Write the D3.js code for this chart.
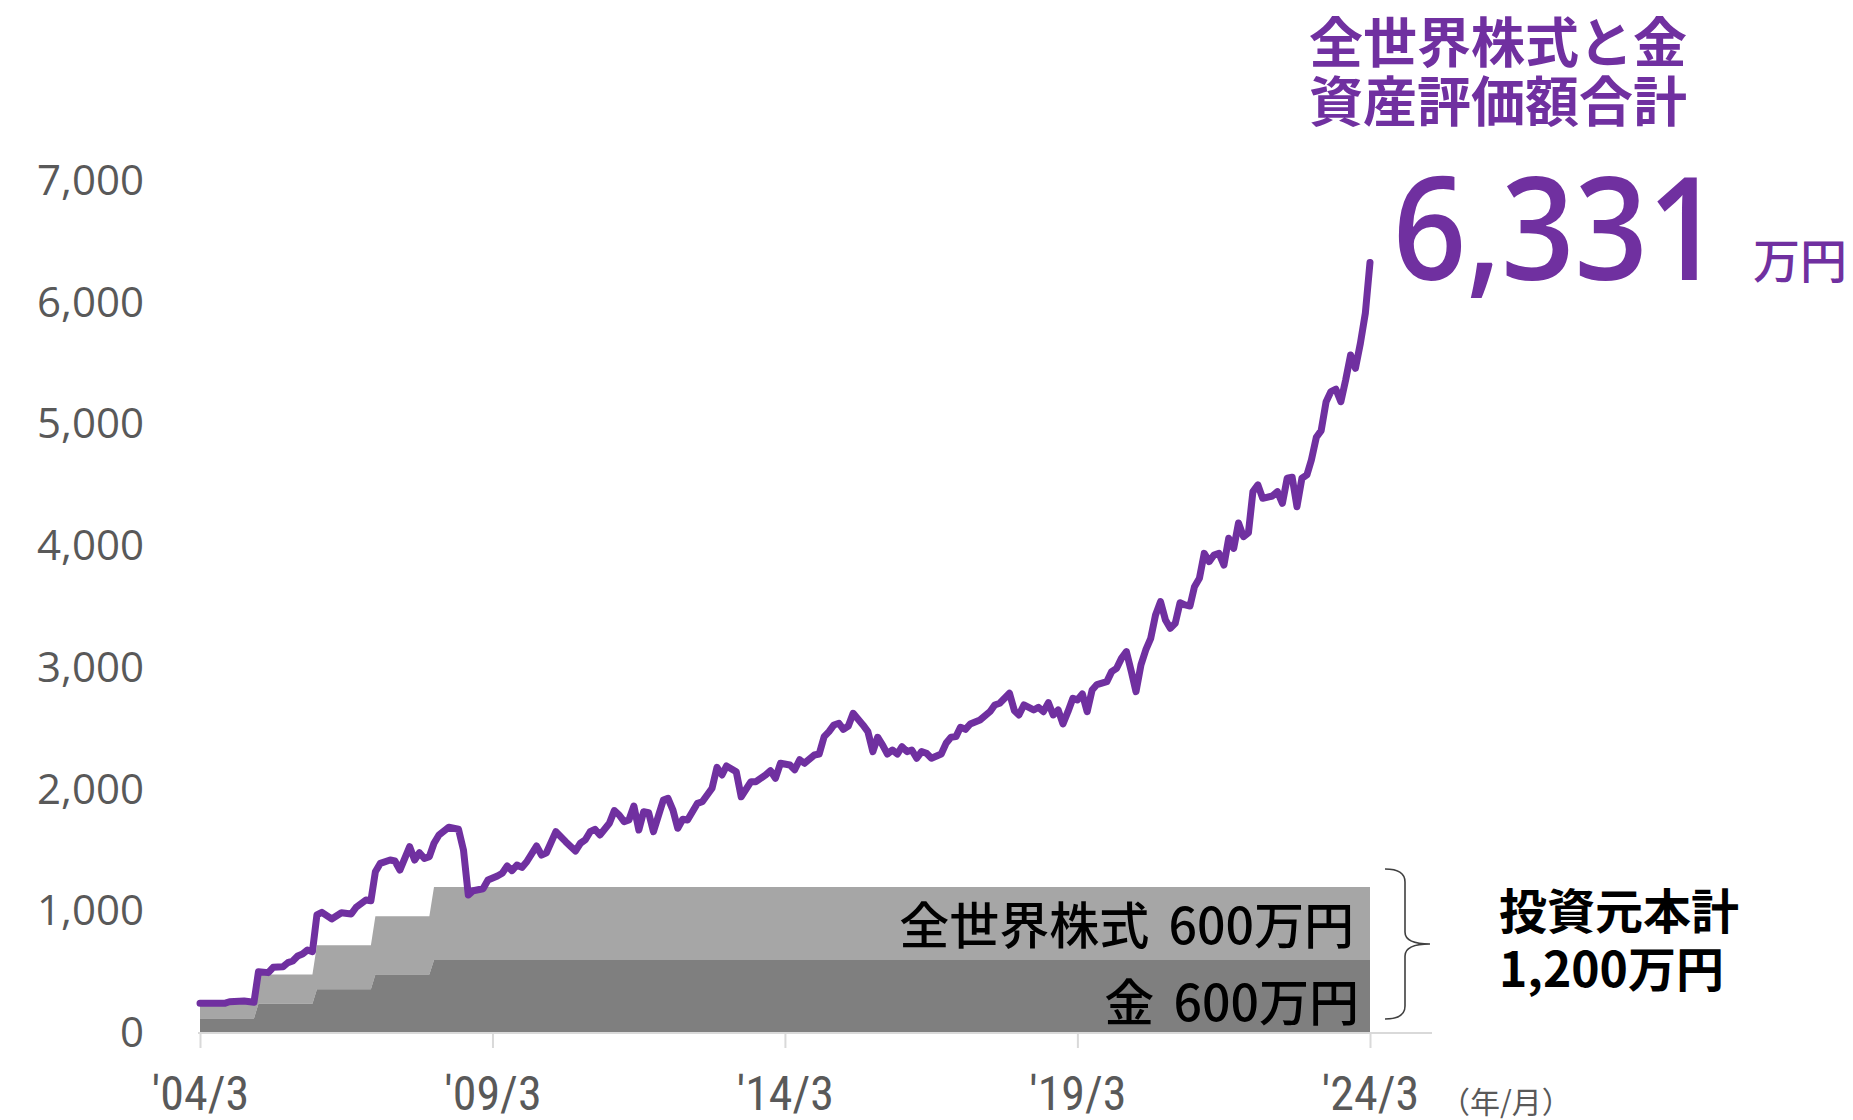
<!DOCTYPE html>
<html lang="ja">
<head>
<meta charset="utf-8">
<title>全世界株式と金 資産評価額合計</title>
<script src="https://cdn.jsdelivr.net/npm/d3@7"></script>
<style>
  html, body { margin: 0; padding: 0; background: #ffffff; }
  svg { display: block; }
</style>
</head>
<body>
<svg id="chart" width="1853" height="1120"></svg>
<script>
// Month-end valuation of the combined portfolio (万円)
const months = [
  "2004-03","2004-08","2004-09","2004-12","2005-02","2005-03","2005-05","2005-06","2005-08","2005-09",
  "2005-10","2005-11","2005-12","2006-01","2006-02","2006-03","2006-04","2006-06","2006-08","2006-10",
  "2006-11","2007-01","2007-02","2007-03","2007-04","2007-06","2007-07","2007-08","2007-10","2007-11",
  "2007-12","2008-01","2008-02","2008-03","2008-04","2008-06","2008-08","2008-09","2008-10","2008-11",
  "2009-01","2009-02","2009-04","2009-05","2009-06","2009-07","2009-08","2009-09","2009-10","2009-12",
  "2010-01","2010-02","2010-04","2010-06","2010-08","2010-09","2010-10","2010-11","2010-12","2011-01",
  "2011-03","2011-04","2011-05","2011-06","2011-07","2011-08","2011-09","2011-10","2011-11","2011-12",
  "2012-02","2012-03","2012-04","2012-05","2012-06","2012-07","2012-09","2012-10","2012-12","2013-01",
  "2013-02","2013-03","2013-05","2013-06","2013-08","2013-09","2013-11","2013-12","2014-01","2014-02",
  "2014-04","2014-05","2014-06","2014-07","2014-09","2014-10","2014-11","2014-12","2015-01","2015-02",
  "2015-03","2015-04","2015-05","2015-07","2015-08","2015-09","2015-10","2015-11","2015-12","2016-01",
  "2016-02","2016-03","2016-04","2016-05","2016-06","2016-07","2016-08","2016-09","2016-11","2016-12",
  "2017-01","2017-02","2017-03","2017-04","2017-05","2017-07","2017-09","2017-10","2017-11","2018-01",
  "2018-02","2018-03","2018-04","2018-06","2018-07","2018-08","2018-09","2018-10","2018-11","2018-12",
  "2019-01","2019-02","2019-03","2019-04","2019-05","2019-06","2019-07","2019-09","2019-10","2019-11",
  "2019-12","2020-01","2020-02","2020-03","2020-04","2020-05","2020-06","2020-07","2020-08","2020-09",
  "2020-10","2020-11","2020-12","2021-01","2021-02","2021-03","2021-04","2021-05","2021-06","2021-07",
  "2021-08","2021-09","2021-10","2021-11","2021-12","2022-01","2022-02","2022-03","2022-04","2022-05",
  "2022-07","2022-08","2022-09","2022-10","2022-11","2022-12","2023-01","2023-02","2023-03","2023-04",
  "2023-05","2023-06","2023-07","2023-08","2023-09","2023-10","2023-11","2023-12","2024-01","2024-02",
  "2024-03"
];
const totalValue = [
  244, 244, 257, 263, 252, 504, 496, 540, 545, 578,
  592, 633, 649, 682, 668, 970, 991, 937, 988, 978,
  1033, 1093, 1087, 1325, 1394, 1421, 1413, 1339, 1531, 1421,
  1481, 1435, 1449, 1559, 1627, 1690, 1674, 1504, 1134, 1169,
  1185, 1257, 1290, 1312, 1372, 1334, 1380, 1361, 1407, 1536,
  1462, 1481, 1654, 1572, 1495, 1559, 1586, 1654, 1674, 1627,
  1723, 1827, 1791, 1736, 1750, 1865, 1668, 1818, 1810, 1654,
  1914, 1928, 1832, 1682, 1756, 1750, 1887, 1900, 2011, 2183,
  2120, 2194, 2147, 1941, 2065, 2065, 2120, 2155, 2093, 2216,
  2202, 2163, 2245, 2216, 2284, 2292, 2435, 2476, 2531, 2545,
  2495, 2522, 2627, 2531, 2476, 2312, 2430, 2366, 2292, 2325,
  2292, 2352, 2312, 2325, 2257, 2312, 2298, 2257, 2292, 2380,
  2430, 2435, 2512, 2495, 2539, 2572, 2640, 2695, 2709, 2791,
  2648, 2613, 2695, 2654, 2676, 2640, 2714, 2613, 2654, 2539,
  2640, 2750, 2736, 2785, 2640, 2818, 2863, 2887, 2969, 2996,
  3078, 3133, 2969, 2804, 3024, 3147, 3243, 3434, 3544, 3393,
  3325, 3366, 3535, 3517, 3508, 3667, 3736, 3941, 3873, 3927,
  3941, 3845, 4065, 3982, 4190, 4078, 4110, 4448, 4503, 4393,
  4412, 4448, 4352, 4558, 4566, 4324, 4558, 4585, 4708, 4894,
  4949, 5187, 5270, 5289, 5187, 5365, 5571, 5461, 5667, 5914,
  6331
];

// Annual lump-sum contributions (万円)
const contributionMonths = ["2004-03", "2005-03", "2006-03", "2007-03", "2008-03"];
const goldContribution   = [120, 120, 120, 120, 120];
const stockContribution  = [120, 120, 120, 120, 120];
const endMonth = "2024-03";

// Axis ticks
const yTicks = [0, 1000, 2000, 3000, 4000, 5000, 6000, 7000];
const xTickMonths = ["2004-03", "2009-03", "2014-03", "2019-03", "2024-03"];
const xTickLabels = ["'04/3", "'09/3", "'14/3", "'19/3", "'24/3"];

const parseMonth = d3.timeParse("%Y-%m");

const svg = d3.select("#chart");

const x = d3.scaleTime()
  .domain([parseMonth("2004-03"), parseMonth("2024-03")])
  .range([200, 1370]);
const y = d3.scaleLinear()
  .domain([0, 7000])
  .range([1033, 181]);

// Cumulative principal as a monthly step series (each step ramps over one month)
function principalSeries() {
  const pts = [];
  let gold = 0, stock = 0;
  contributionMonths.forEach((m, i) => {
    const d = parseMonth(m);
    if (i > 0) pts.push({ date: d3.timeMonth.offset(d, -1), gold, total: gold + stock });
    gold += goldContribution[i];
    stock += stockContribution[i];
    pts.push({ date: d, gold, total: gold + stock });
  });
  pts.push({ date: parseMonth(endMonth), gold, total: gold + stock });
  return pts;
}
const principal = principalSeries();

const goldArea = d3.area()
  .x(d => x(d.date))
  .y0(y(0))
  .y1(d => y(d.gold));
const stockArea = d3.area()
  .x(d => x(d.date))
  .y0(d => y(d.gold))
  .y1(d => y(d.total));

svg.append("path")
  .datum(principal)
  .attr("d", stockArea)
  .attr("fill", "#a6a6a6");
svg.append("path")
  .datum(principal)
  .attr("d", goldArea)
  .attr("fill", "#7f7f7f");

// Baseline
svg.append("line")
  .attr("x1", x(parseMonth("2004-03")) - 2)
  .attr("x2", 1432)
  .attr("y1", y(0))
  .attr("y2", y(0))
  .attr("stroke", "#d9d9d9")
  .attr("stroke-width", 2);

// X axis
const xAxis = d3.axisBottom(x)
  .tickValues(xTickMonths.map(parseMonth))
  .tickSize(15)
  .tickFormat((d, i) => xTickLabels[i]);
const gx = svg.append("g")
  .attr("transform", `translate(0,${y(0)})`)
  .call(xAxis);
gx.select(".domain").remove();
gx.selectAll(".tick line").attr("stroke", "#d9d9d9").attr("stroke-width", 2);
gx.selectAll(".tick text")
  .attr("y", 60)
  .attr("dy", "0.35em")
  .attr("fill", "#595959")
  .style("font-family", "'Liberation Sans Narrow', 'Roboto Condensed', 'Liberation Sans', sans-serif")
  .style("font-size", "48px");

// Y axis
const yAxis = d3.axisLeft(y)
  .tickValues(yTicks)
  .tickSize(0)
  .tickPadding(0)
  .tickFormat(d3.format(","));
const gy = svg.append("g")
  .attr("transform", "translate(144,0)")
  .call(yAxis);
gy.select(".domain").remove();
gy.selectAll(".tick text")
  .attr("fill", "#595959")
  .style("font-family", "'Open Sans', 'Noto Sans', sans-serif")
  .style("font-size", "42px");

// Unit label
svg.append("text")
  .attr("x", 1506)
  .attr("y", 1100)
  .attr("text-anchor", "middle")
  .attr("dominant-baseline", "central")
  .attr("fill", "#595959")
  .style("font-family", "'Noto Sans CJK JP', sans-serif")
  .style("font-size", "30px")
  .text("（年/月）");

// Portfolio value line
const line = d3.line()
  .x((d, i) => x(parseMonth(months[i])))
  .y(d => y(d));
svg.append("path")
  .datum(totalValue)
  .attr("d", line)
  .attr("fill", "none")
  .attr("stroke", "#7030a0")
  .attr("stroke-width", 7)
  .attr("stroke-linejoin", "round")
  .attr("stroke-linecap", "round");

// Labels inside the principal bands
const cjk = "'Noto Sans CJK JP', 'Noto Sans', sans-serif";
svg.append("text")
  .attr("x", 1354)
  .attr("y", 922)
  .attr("text-anchor", "end")
  .attr("dominant-baseline", "central")
  .attr("fill", "#000")
  .style("font-family", cjk)
  .style("font-size", "50px")
  .style("font-weight", 500)
  .style("word-spacing", "8px")
  .text("全世界株式 " + d3.sum(stockContribution) + "万円");
svg.append("text")
  .attr("x", 1359)
  .attr("y", 999)
  .attr("text-anchor", "end")
  .attr("dominant-baseline", "central")
  .attr("fill", "#000")
  .style("font-family", cjk)
  .style("font-size", "50px")
  .style("font-weight", 500)
  .style("word-spacing", "8px")
  .text("金 " + d3.sum(goldContribution) + "万円");

// Brace grouping the principal
svg.append("path")
  .attr("d", "M1385,869 Q1405,869 1405,882 L1405,932 Q1405,944 1430,944 Q1405,944 1405,956 L1405,1006 Q1405,1019 1385,1019")
  .attr("fill", "none")
  .attr("stroke", "#404040")
  .attr("stroke-width", 1.6);

svg.append("text")
  .attr("x", 1499)
  .attr("y", 908)
  .attr("dominant-baseline", "central")
  .attr("fill", "#000")
  .style("font-family", cjk)
  .style("font-size", "48px")
  .style("font-weight", 700)
  .text("投資元本計");
svg.append("text")
  .attr("x", 1499)
  .attr("y", 966)
  .attr("dominant-baseline", "central")
  .attr("fill", "#000")
  .style("font-family", cjk)
  .style("font-size", "48px")
  .style("font-weight", 700)
  .text(d3.format(",")(d3.sum(goldContribution) + d3.sum(stockContribution)) + "万円");

// Headline: total valuation
const purple = "#7030a0";
svg.append("text")
  .attr("x", 1309)
  .attr("y", 39)
  .attr("dominant-baseline", "central")
  .attr("fill", purple)
  .style("font-family", cjk)
  .style("font-size", "54px")
  .style("font-weight", 700)
  .text("全世界株式と金");
svg.append("text")
  .attr("x", 1309)
  .attr("y", 98)
  .attr("dominant-baseline", "central")
  .attr("fill", purple)
  .style("font-family", cjk)
  .style("font-size", "54px")
  .style("font-weight", 700)
  .text("資産評価額合計");

svg.append("text")
  .attr("x", 1393)
  .attr("y", 280)
  .attr("fill", purple)
  .attr("textLength", 328)
  .attr("lengthAdjust", "spacingAndGlyphs")
  .style("font-family", "'Open Sans', 'Noto Sans', sans-serif")
  .style("font-size", "144px")
  .style("font-weight", 600)
  .text(d3.format(",")(totalValue[totalValue.length - 1]));
svg.append("text")
  .attr("x", 1753)
  .attr("y", 257)
  .attr("dominant-baseline", "central")
  .attr("fill", purple)
  .style("font-family", cjk)
  .style("font-size", "47px")
  .style("font-weight", 500)
  .text("万円");
</script>
</body>
</html>
